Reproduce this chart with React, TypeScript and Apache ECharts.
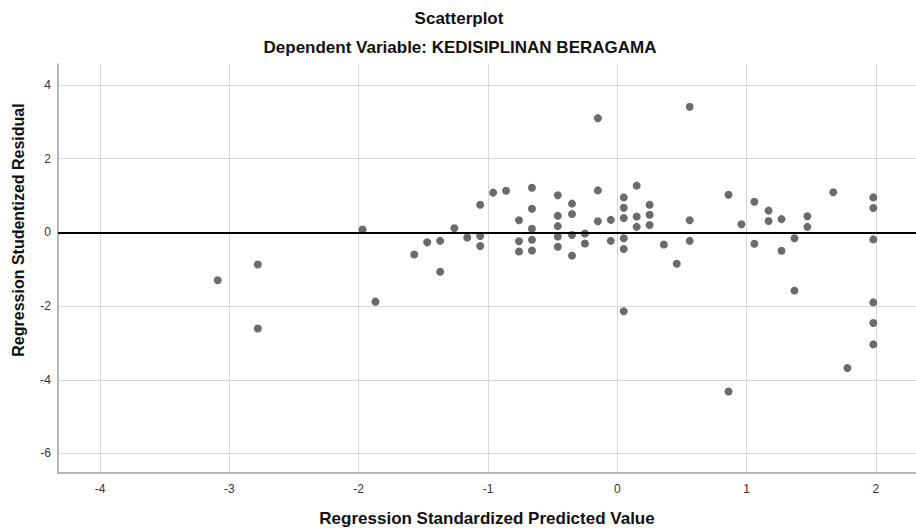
import React, { useEffect, useRef } from "react";
import * as echarts from "echarts";

const chartTitle = "Scatterplot";
const chartSubtitle = "Dependent Variable: KEDISIPLINAN BERAGAMA";
const xAxisTitle = "Regression Standardized Predicted Value";
const yAxisTitle = "Regression Studentized Residual";

const xTicks = [-4, -3, -2, -1, 0, 1, 2];
const yTicks = [-6, -4, -2, 0, 2, 4];

// Regression standardized predicted value
const predicted = [
  -3.09, -2.78, -2.78, -1.97, -1.87, -1.57, -1.47,
  -1.37, -1.37, -1.26, -1.16, -1.06, -1.06, -1.06,
  -0.96, -0.86, -0.76, -0.76, -0.76,
  -0.66, -0.66, -0.66, -0.66, -0.66,
  -0.46, -0.46, -0.46, -0.46, -0.46,
  -0.35, -0.35, -0.35, -0.35,
  -0.25, -0.25,
  -0.15, -0.15, -0.15,
  -0.05, -0.05,
  0.05, 0.05, 0.05, 0.05, 0.05, 0.05,
  0.15, 0.15, 0.15,
  0.25, 0.25, 0.25,
  0.36, 0.46, 0.56, 0.56, 0.56,
  0.86, 0.86, 0.96, 1.06, 1.06,
  1.17, 1.17, 1.27, 1.27, 1.37, 1.37,
  1.47, 1.47, 1.67, 1.78,
  1.98, 1.98, 1.98, 1.98, 1.98, 1.98,
];

// Regression studentized residual
const residual = [
  -1.30, -0.87, -2.61, 0.08, -1.88, -0.60, -0.27,
  -0.23, -1.07, 0.11, -0.14, 0.75, -0.10, -0.37,
  1.08, 1.13, 0.33, -0.24, -0.52,
  1.21, 0.64, 0.10, -0.20, -0.49,
  1.01, 0.45, 0.17, -0.11, -0.39,
  0.78, 0.50, -0.07, -0.63,
  -0.03, -0.30,
  3.10, 1.14, 0.30,
  0.34, -0.23,
  0.95, 0.67, 0.39, -0.16, -0.45, -2.14,
  1.27, 0.43, 0.15,
  0.75, 0.48, 0.20,
  -0.33, -0.85, 3.41, 0.33, -0.23,
  1.02, -4.32, 0.22, 0.83, -0.31,
  0.59, 0.31, 0.36, -0.50, -0.16, -1.58,
  0.44, 0.15, 1.09, -3.68,
  0.95, 0.66, -0.19, -1.90, -2.46, -3.04,
];

const FONT = "'Liberation Sans', Arial, Helvetica, sans-serif";

export default function App() {
  const ref = useRef<HTMLDivElement>(null);

  useEffect(() => {
    if (!ref.current) return;
    const chart = echarts.init(ref.current, null, { renderer: "svg" });
    const points = predicted.map((x, i) => [x, residual[i]]);

    chart.setOption({
      animation: false,
      backgroundColor: "#ffffff",
      textStyle: { fontFamily: FONT },
      grid: { left: 58, top: 64, right: 0, bottom: 58, containLabel: false },
      graphic: [
        {
          type: "text",
          x: 459,
          y: 18,
          style: {
            text: chartTitle,
            font: `bold 17px ${FONT}`,
            fill: "#111",
            align: "center",
            verticalAlign: "middle",
          },
        },
        {
          type: "text",
          x: 460,
          y: 47,
          style: {
            text: chartSubtitle,
            font: `bold 17px ${FONT}`,
            fill: "#111",
            align: "center",
            verticalAlign: "middle",
          },
        },
        {
          type: "text",
          x: 18,
          y: 230,
          rotation: Math.PI / 2,
          style: {
            text: yAxisTitle,
            font: `bold 16px ${FONT}`,
            fill: "#111",
            align: "center",
            verticalAlign: "middle",
          },
        },
      ],
      xAxis: {
        type: "value",
        min: -4.325,
        max: 2.31,
        name: xAxisTitle,
        nameLocation: "middle",
        nameGap: 37,
        nameTextStyle: { fontWeight: "bold", fontSize: 17, color: "#111", fontFamily: FONT },
        axisLine: { show: true, onZero: false, lineStyle: { color: "#a0a0a0", width: 1.5 } },
        axisTick: { show: false, customValues: xTicks },
        axisLabel: { customValues: xTicks, color: "#333", fontSize: 12, margin: 10, fontFamily: FONT },
        splitLine: { show: true, lineStyle: { color: "#d6d6d6", width: 1 } },
      },
      yAxis: {
        type: "value",
        min: -6.53,
        max: 4.57,
        axisLine: { show: true, onZero: false, lineStyle: { color: "#a0a0a0", width: 1.5 } },
        axisTick: { show: false, customValues: yTicks },
        axisLabel: { customValues: yTicks, color: "#333", fontSize: 12, margin: 7, fontFamily: FONT },
        splitLine: { show: true, lineStyle: { color: "#d6d6d6", width: 1 } },
      },
      series: [
        {
          type: "scatter",
          data: points,
          symbol: "circle",
          symbolSize: 8,
          itemStyle: { color: "#6b6b6b", opacity: 1 },
          markLine: {
            silent: true,
            symbol: "none",
            label: { show: false },
            lineStyle: { color: "#000000", width: 2, type: "solid" },
            data: [{ yAxis: 0 }],
          },
        },
      ],
    });

    return () => chart.dispose();
  }, []);

  return (
    <div
      ref={ref}
      style={{ position: "fixed", left: 0, top: 0, width: 916, height: 532, background: "#fff" }}
    />
  );
}
